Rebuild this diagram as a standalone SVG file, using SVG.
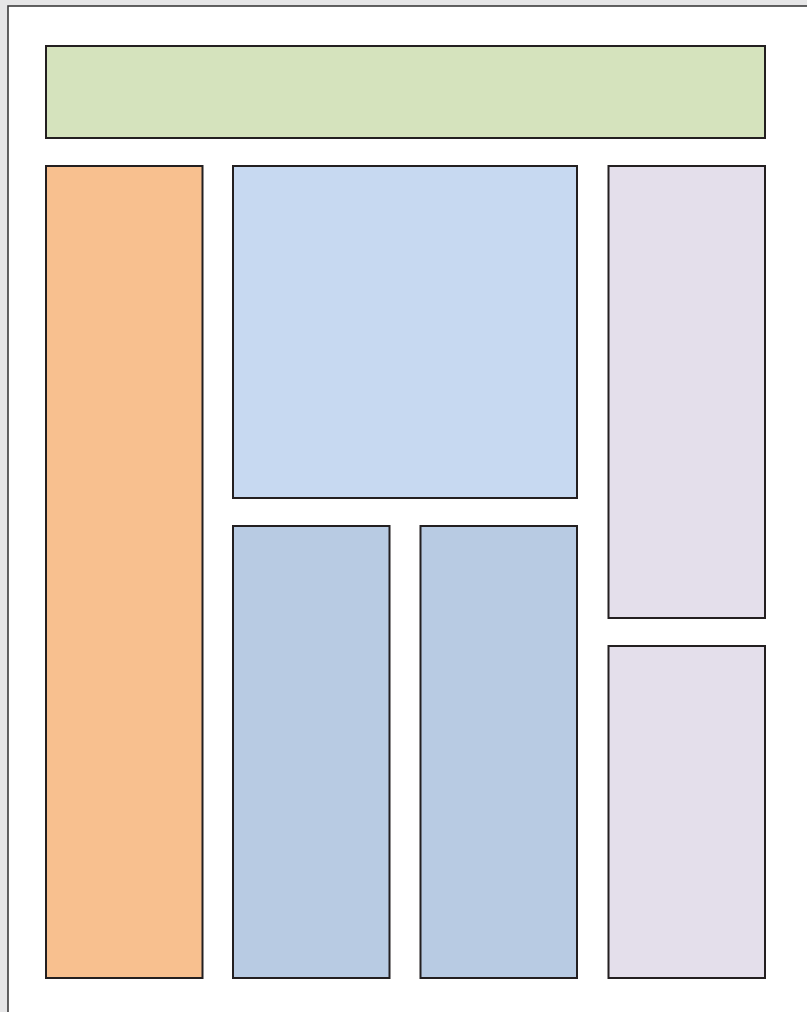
<svg xmlns="http://www.w3.org/2000/svg" width="807" height="1012" viewBox="0 0 807 1012">
<style>
.blk{stroke:#231f20;stroke-width:2}
.g{fill:#d5e3bd}
.o{fill:#f8c08f}
.lb{fill:#c7d9f1}
.b{fill:#b8cbe3}
.l{fill:#e4dfeb}
</style>
<rect x="0" y="0" width="807" height="1012" fill="#e6e6e7"/>
<rect x="8" y="6" width="810" height="1020" fill="#ffffff" stroke="#3c3c3c" stroke-width="1.6"/>
<g id="header"><rect class="blk g" x="46" y="46" width="719" height="92"/></g>
<g id="left"><rect class="blk o" x="46" y="166" width="156.5" height="812"/></g>
<g id="center-top"><rect class="blk lb" x="233" y="166" width="344" height="332"/></g>
<g id="center-bottom-left"><rect class="blk b" x="233" y="526" width="156.5" height="452"/></g>
<g id="center-bottom-right"><rect class="blk b" x="420.5" y="526" width="156.5" height="452"/></g>
<g id="right-top"><rect class="blk l" x="608.5" y="166" width="156.5" height="452"/></g>
<g id="right-bottom"><rect class="blk l" x="608.5" y="646" width="156.5" height="332"/></g>
<g id="connectors"></g>
</svg>
